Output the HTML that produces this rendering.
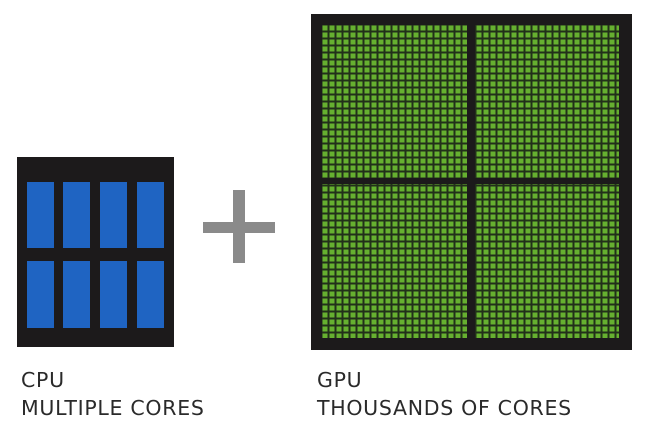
<!DOCTYPE html>
<html><head><style>
body{margin:0;background:#fff;width:650px;height:446px;overflow:hidden;position:relative;font-family:"DejaVu Sans","Liberation Sans",sans-serif;}
.t{position:absolute;color:#2a2a2a;font-size:20.5px;line-height:28px;letter-spacing:0.7px}
</style></head><body>
<svg width="650" height="446" style="position:absolute;left:0;top:0">
<defs>
<pattern id="g" x="322" y="25" width="7" height="7" patternUnits="userSpaceOnUse">
<rect width="7" height="7" fill="#22301a"/>
<rect x="0.5" y="0.5" width="5" height="5" fill="#66b030"/>
</pattern>
</defs>
<rect x="17" y="157" width="157" height="190" fill="#1c1a1b"/>
<g fill="#1f64c2">
<rect x="27" y="182" width="27" height="66"/><rect x="63" y="182" width="27" height="66"/><rect x="100" y="182" width="27" height="66"/><rect x="137" y="182" width="27" height="66"/>
<rect x="27" y="261" width="27" height="67"/><rect x="63" y="261" width="27" height="67"/><rect x="100" y="261" width="27" height="67"/><rect x="137" y="261" width="27" height="67"/>
</g>
<rect x="203" y="222" width="72" height="11" fill="#8a8a8a"/>
<rect x="233" y="190" width="12" height="73" fill="#8a8a8a"/>
<rect x="311" y="14" width="321" height="336" fill="#1c1a1b"/>
<rect x="322" y="25" width="297" height="313" fill="url(#g)"/>
<rect x="467" y="25" width="8" height="313" fill="#1c1a1b"/>
<rect x="322" y="178" width="297" height="6" fill="#1c1a1b"/>
</svg>
<div class="t" style="left:21px;top:366px">CPU<br>MULTIPLE CORES</div>
<div class="t" style="left:317px;top:366px">GPU<br>THOUSANDS OF CORES</div>
</body></html>
